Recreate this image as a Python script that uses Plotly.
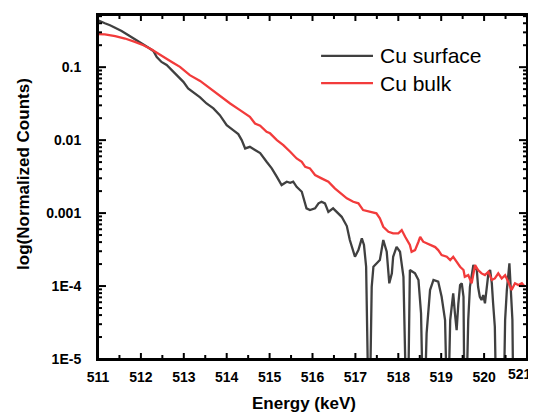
import math
import plotly.graph_objects as go

# ---- data ----
surface_energy = [511.00, 511.05, 511.16, 511.28, 511.40, 511.55, 511.71, 511.86, 512.02, 512.17,
                  512.29, 512.37, 512.48, 512.60, 512.72, 512.87, 512.99, 513.10, 513.26, 513.38,
                  513.53, 513.69, 513.84, 514.00, 514.15, 514.27, 514.35, 514.43, 514.54, 514.66,
                  514.78, 514.93, 515.05, 515.17, 515.28, 515.40, 515.48, 515.55, 515.63, 515.75,
                  515.86, 515.94, 516.06, 516.14, 516.21, 516.29, 516.37, 516.48, 516.56, 516.68,
                  516.80, 516.87, 516.99, 517.07, 517.15, 517.20, 517.25, 517.28, 517.30, 517.34,
                  517.38, 517.42, 517.49, 517.57, 517.65, 517.73, 517.79, 517.85, 517.88, 517.96,
                  518.04, 518.12, 518.18, 518.23, 518.27, 518.39, 518.47, 518.53, 518.57, 518.62,
                  518.66, 518.74, 518.82, 518.93, 519.01, 519.09, 519.13, 519.17, 519.21, 519.25,
                  519.28, 519.32, 519.36, 519.40, 519.44, 519.48, 519.52, 519.54, 519.59, 519.63,
                  519.67, 519.75, 519.83, 519.86, 519.90, 519.94, 519.98, 520.02, 520.06, 520.10,
                  520.14, 520.18, 520.21, 520.25, 520.28, 520.46, 520.49, 520.53, 520.59, 520.63,
                  520.66, 520.68]
surface_counts = [0.44, 0.43, 0.40, 0.375, 0.35, 0.314, 0.274, 0.239, 0.211, 0.186,
                  0.167, 0.138, 0.118, 0.107, 0.091, 0.0736, 0.0629, 0.0510, 0.0436, 0.0385,
                  0.0318, 0.0272, 0.0220, 0.0160, 0.0137, 0.0121, 0.0100, 0.00769, 0.00809, 0.00730,
                  0.00664, 0.00505, 0.00410, 0.00314, 0.00242, 0.00269, 0.00260, 0.00269, 0.00229, 0.00196,
                  0.00116, 0.00110, 0.00116, 0.00136, 0.00143, 0.00136, 0.00104, 0.00116, 0.00104, 0.000889,
                  0.000664, 0.000427, 0.000252, 0.000311, 0.000450, 0.000365, 0.000184, 4.23e-5, 3e-6, 3e-6,
                  9.77e-5, 0.000184, 0.000205, 0.000227, 0.000427, 0.000295, 0.000109, 0.000149, 0.000252, 0.000345,
                  0.000295, 0.000134, 3e-6, 3e-6, 0.000166, 0.000149, 0.000121, 4.23e-5, 3e-6, 3e-6,
                  2.25e-5, 8.81e-5, 0.000121, 0.000115, 7.13e-5, 3.42e-5, 3e-6, 3e-6, 3.42e-5, 5.80e-5,
                  7.94e-5, 4.23e-5, 2.49e-5, 5.80e-5, 0.000103, 0.000109, 7.13e-5, 3e-6, 3e-6, 3.42e-5,
                  9.77e-5, 0.000194, 0.000166, 9.77e-5, 7.13e-5, 6.43e-5, 7.53e-5, 5.80e-5, 9.77e-5, 0.000149,
                  0.000166, 0.000109, 5.80e-5, 2.77e-5, 3e-6, 3e-6, 3.42e-5, 8.81e-5, 0.000205, 8.81e-5,
                  3.42e-5, 3e-6]

bulk_energy = [511.00, 511.16, 511.40, 511.63, 511.86, 512.06, 512.25, 512.48, 512.72, 512.91,
               513.14, 513.38, 513.61, 513.84, 514.08, 514.31, 514.54, 514.66, 514.78, 514.93,
               515.01, 515.17, 515.32, 515.48, 515.63, 515.75, 515.83, 515.94, 516.06, 516.21,
               516.37, 516.52, 516.68, 516.80, 516.95, 517.07, 517.18, 517.34, 517.49, 517.57,
               517.65, 517.77, 517.88, 518.00, 518.08, 518.16, 518.27, 518.31, 518.39, 518.47,
               518.51, 518.58, 518.66, 518.74, 518.86, 518.93, 519.01, 519.13, 519.21, 519.28,
               519.36, 519.44, 519.52, 519.55, 519.63, 519.71, 519.79, 519.86, 519.94, 520.02,
               520.10, 520.18, 520.25, 520.33, 520.41, 520.49, 520.56, 520.64, 520.72, 520.80,
               520.88, 520.95]
bulk_counts = [0.283, 0.281, 0.266, 0.247, 0.222, 0.200, 0.175, 0.146, 0.118, 0.101,
               0.0777, 0.0648, 0.0510, 0.0413, 0.0318, 0.0258, 0.0209, 0.0169, 0.0158, 0.0130,
               0.0124, 0.0100, 0.00855, 0.00692, 0.00561, 0.00505, 0.00431, 0.00410, 0.00332, 0.00299,
               0.00269, 0.00218, 0.00182, 0.00159, 0.00143, 0.00136, 0.00110, 0.00104, 0.000991, 0.000846,
               0.000649, 0.000554, 0.000527, 0.000527, 0.000585, 0.000473, 0.000365, 0.000295, 0.000311, 0.000405,
               0.000473, 0.000405, 0.000385, 0.000365, 0.000342, 0.000311, 0.000266, 0.000252, 0.000227, 0.000252,
               0.000215, 0.000184, 0.000166, 0.000134, 0.000141, 0.000109, 0.000194, 0.000166, 0.000149, 0.000141,
               0.000157, 0.000121, 0.000127, 0.000149, 0.000127, 0.000141, 0.000115, 8.81e-5, 0.000109, 0.000103,
               0.000109, 9.77e-5]

series_names = ["Cu surface", "Cu bulk"]
series_colors = ["#404040", "#f23b3b"]

x_ticks = [511, 512, 513, 514, 515, 516, 517, 518, 519, 520]
x_last_tick = 521
x_minor_ticks = [511.5, 512.5, 513.5, 514.5, 515.5, 516.5, 517.5, 518.5, 519.5, 520.5]
y_tickvals = [1e-5, 1e-4, 1e-3, 1e-2, 1e-1]
y_ticktext = ["1E-5", "1E-4", "0.001", "0.01", "0.1"]

X_RANGE = [511, 521]
Y_RANGE = [-5, -0.285]
y_minor_ticks = [m * 10 ** e for e in range(-5, 0) for m in range(2, 10)
                 if math.log10(m * 10 ** e) < Y_RANGE[1]]

fig = go.Figure()
for xs, ys, name, color in [(surface_energy, surface_counts, series_names[0], series_colors[0]),
                            (bulk_energy, bulk_counts, series_names[1], series_colors[1])]:
    fig.add_trace(go.Scatter(x=xs, y=ys, mode="lines", name=name, showlegend=False,
                             line=dict(color=color, width=2.3)))

FONT = "Liberation Sans, Arial"
tickfont = dict(family=FONT, size=14, color="black", weight="bold")
titlefont = dict(family=FONT, size=17, color="black", weight="bold")
line_kw = dict(showline=True, linewidth=2, linecolor="black", showgrid=False, zeroline=False,
               automargin=False)

FIG_W, FIG_H = 528, 404
MARGIN = dict(l=90, r=9, t=7, b=53)
PLOT_W = FIG_W - MARGIN["l"] - MARGIN["r"]
PLOT_H = FIG_H - MARGIN["t"] - MARGIN["b"]

def y_frac(v):
    return (math.log10(v) - Y_RANGE[0]) / (Y_RANGE[1] - Y_RANGE[0])

shapes = []
# frame
shapes.append(dict(type="rect", xref="paper", yref="paper", x0=0, x1=1, y0=0, y1=1,
                   line=dict(color="black", width=2), fillcolor="rgba(0,0,0,0)", layer="above"))
# x ticks (inside, mirrored on top)
for vals, length, width in [(x_ticks + [x_last_tick], 6, 2), (x_minor_ticks, 4, 2)]:
    dl = length / PLOT_H
    for v in vals:
        shapes.append(dict(type="line", xref="x", yref="paper", x0=v, x1=v, y0=0, y1=dl,
                           line=dict(color="black", width=width), layer="above"))
        shapes.append(dict(type="line", xref="x", yref="paper", x0=v, x1=v, y0=1, y1=1 - dl,
                           line=dict(color="black", width=width), layer="above"))
# y ticks (inside, mirrored on right)
for vals, length, width in [(y_tickvals, 8, 2), (y_minor_ticks, 4, 2)]:
    dl = length / PLOT_W
    for v in vals:
        f = y_frac(v)
        shapes.append(dict(type="line", xref="paper", yref="paper", x0=0, x1=dl, y0=f, y1=f,
                           line=dict(color="black", width=width), layer="above"))
        shapes.append(dict(type="line", xref="paper", yref="paper", x0=1, x1=1 - dl, y0=f, y1=f,
                           line=dict(color="black", width=width), layer="above"))

# legend drawn as line samples + labels
legend_x0, legend_x1, legend_text_x = 0.52, 0.641, 0.652
legend_rows_y = [0.881, 0.802]
annotations = []
for name, color, ly in zip(series_names, series_colors, legend_rows_y):
    shapes.append(dict(type="line", xref="paper", yref="paper", x0=legend_x0, x1=legend_x1,
                       y0=ly, y1=ly, line=dict(color=color, width=2.3)))
    annotations.append(dict(text=name, xref="paper", yref="paper", x=legend_text_x, y=ly,
                            xanchor="left", yanchor="middle", showarrow=False,
                            font=dict(family=FONT, size=21, color="black")))

annotations += [
    dict(text=str(x_last_tick), xref="paper", yref="paper", x=1.0165, y=-0.015,
         xanchor="right", yanchor="top", showarrow=False, font=tickfont),
    dict(text="Energy (keV)", xref="paper", yref="paper", x=0.481, y=-0.128,
         xanchor="center", yanchor="middle", showarrow=False, font=titlefont),
    dict(text="log(Normalized Counts)", xref="paper", yref="paper", x=-0.1725, y=0.538,
         xanchor="center", yanchor="middle", showarrow=False, textangle=-90, font=titlefont),
]

fig.update_layout(
    width=FIG_W, height=FIG_H,
    margin=dict(**MARGIN, autoexpand=False),
    paper_bgcolor="white", plot_bgcolor="white",
    showlegend=False,
    xaxis=dict(range=X_RANGE, tickmode="array", tickvals=x_ticks, ticks="outside", ticklen=4,
               tickcolor="rgba(0,0,0,0)", tickfont=tickfont, mirror=True, **line_kw),
    yaxis=dict(type="log", range=Y_RANGE, tickmode="array", tickvals=y_tickvals,
               ticktext=y_ticktext, ticks="outside", ticklen=12,
               tickcolor="rgba(0,0,0,0)", tickfont=tickfont, mirror=True, **line_kw),
    shapes=shapes,
    annotations=annotations,
)

fig.write_html("out.html")
